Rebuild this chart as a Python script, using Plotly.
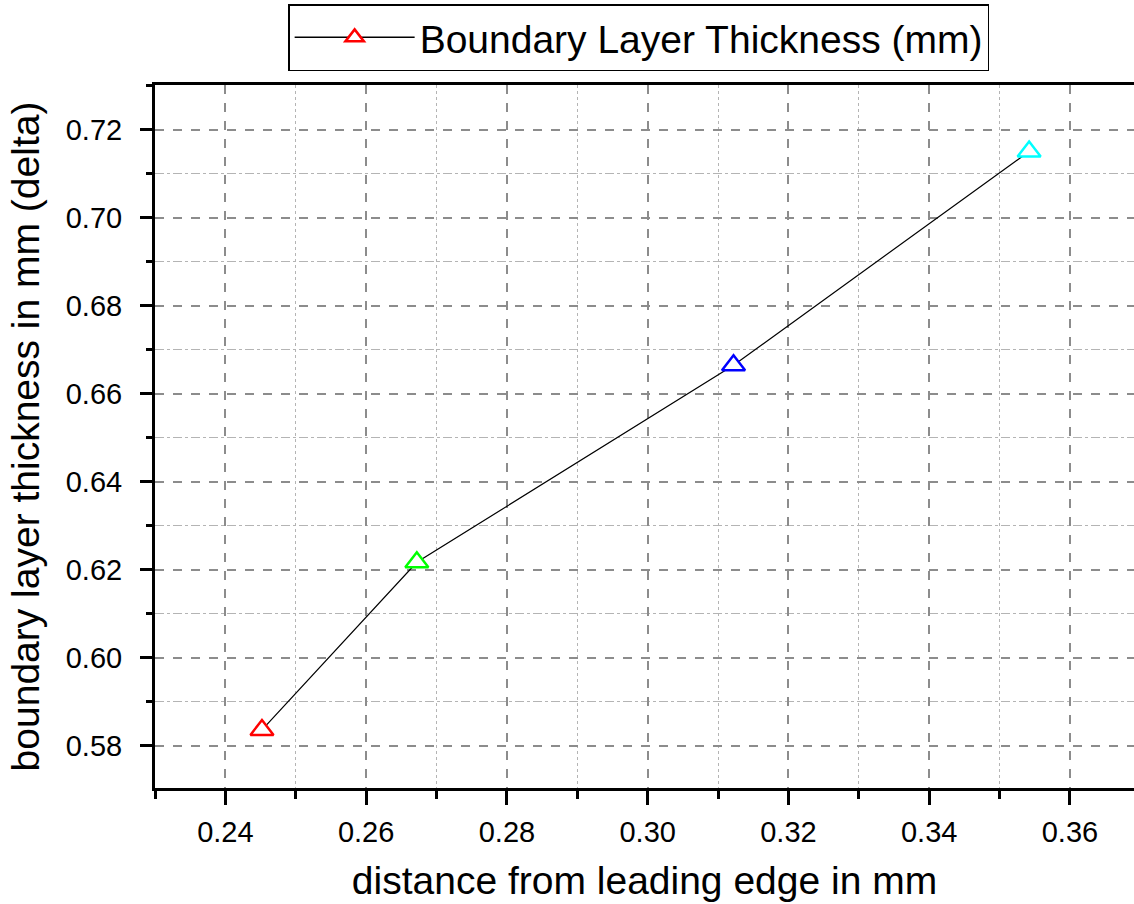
import plotly.graph_objects as go

# data
distance_mm = [0.2452, 0.2672, 0.3122, 0.3542]
thickness_mm = [0.5836, 0.6217, 0.6665, 0.7151]
point_colors = ["#ff0000", "#00ff00", "#0000ff", "#00ffff"]
series_name = "Boundary Layer Thickness (mm)"
x_title = "distance from leading edge in mm"
y_title = "boundary layer thickness in mm (delta)"

FONT = "Liberation Sans, Arial, sans-serif"

fig = go.Figure()

# connecting line
fig.add_trace(go.Scatter(
    x=distance_mm, y=thickness_mm, mode="lines",
    line=dict(color="black", width=1.2),
    showlegend=False, hoverinfo="skip",
))
# markers
fig.add_trace(go.Scatter(
    x=distance_mm, y=thickness_mm, mode="markers",
    marker=dict(symbol="triangle-up", size=20, color="white",
                line=dict(color=point_colors, width=2.5)),
    showlegend=False,
))
# legend entry
fig.add_trace(go.Scatter(
    x=[None], y=[None], mode="lines+markers", name=series_name,
    line=dict(color="black", width=1.5),
    marker=dict(symbol="triangle-up", size=20, color="white",
                line=dict(color=point_colors[0], width=2.5)),
))

fig.update_layout(
    width=1134, height=904,
    margin=dict(l=155, r=0, t=85, b=116, autoexpand=False),
    paper_bgcolor="white", plot_bgcolor="white",
    font=dict(family=FONT, color="black"),
    showlegend=True,
    legend=dict(
        x=0.136, xanchor="left", y=1.1152, yanchor="top",
        bordercolor="black", borderwidth=1.5, bgcolor="white",
        font=dict(size=39, family=FONT, color="black"),
        itemwidth=120,
    ),
)

fig.update_xaxes(
    range=[0.23, 0.3691], automargin=False,
    title=dict(text=x_title, font=dict(size=39, family=FONT), standoff=20),
    tickmode="linear", tick0=0.24, dtick=0.02, tickformat=".2f",
    tickfont=dict(size=29, family=FONT),
    ticks="outside", ticklen=14, tickwidth=2.5, tickcolor="black",
    ticklabelstandoff=2,
    showline=True, linecolor="black", linewidth=3, mirror=True,
    showgrid=True, gridcolor="#8c8c8c", gridwidth=1.5, griddash="dash",
    zeroline=False,
    minor=dict(dtick=0.01, tick0=0.23, ticks="outside", ticklen=8,
               tickwidth=2.5, tickcolor="black",
               showgrid=True, gridcolor="#b4b4b4", gridwidth=1.2,
               griddash="dot"),
)

fig.update_yaxes(
    range=[0.5704, 0.7302], automargin=False,
    title=dict(text=y_title, font=dict(size=39, family=FONT), standoff=15),
    tickmode="linear", tick0=0.58, dtick=0.02, tickformat=".2f",
    tickfont=dict(size=29, family=FONT),
    ticks="outside", ticklen=12, tickwidth=2.5, tickcolor="black",
    ticklabelstandoff=12,
    showline=True, linecolor="black", linewidth=3, mirror=False,
    showgrid=True, gridcolor="#8c8c8c", gridwidth=1.5, griddash="dash",
    zeroline=False,
    minor=dict(dtick=0.01, tick0=0.57, ticks="outside", ticklen=6,
               tickwidth=2.5, tickcolor="black",
               showgrid=True, gridcolor="#b4b4b4", gridwidth=1.2,
               griddash="dashdot"),
)

fig.write_html(
    "out.html",
    config={"displayModeBar": False},
    post_script="document.body.style.margin='0';document.body.style.overflow='hidden';",
)
